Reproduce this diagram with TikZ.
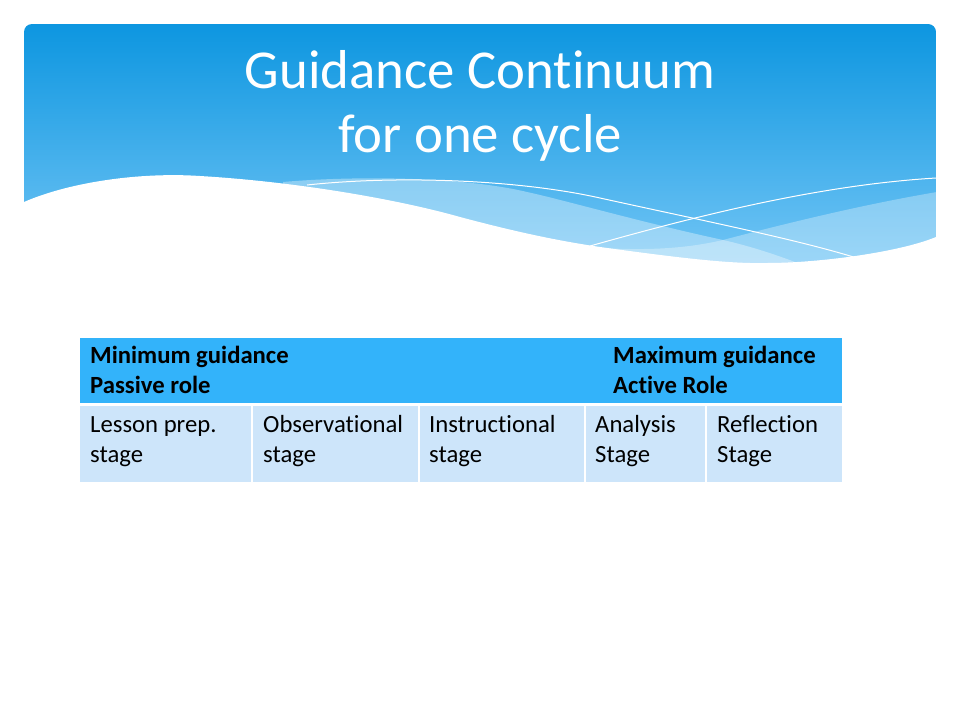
\documentclass[tikz,border=0pt]{standalone}
\usepackage{fontspec}
\setmainfont[Ligatures=NoCommon]{Carlito}
\definecolor{hdtop}{RGB}{13,150,224}
\definecolor{hdbot}{RGB}{118,199,246}
\definecolor{thead}{RGB}{51,179,250}
\definecolor{tbody}{RGB}{205,229,250}
\tikzset{
  titletxt/.style={font=\fontsize{54.8}{64}\selectfont, text=white, inner sep=0pt, anchor=base},
  txt/.style={font=\fontsize{24.7}{29}\selectfont, inner sep=0pt, anchor=base west, text=black},
  btxt/.style={txt, font=\fontsize{24.7}{29}\selectfont\bfseries},
  cellbox/.style={fill=tbody, draw=none, inner sep=0pt, anchor=north west, minimum height=76pt},
  headbox/.style={fill=thead, draw=none, inner sep=0pt, anchor=north west, minimum height=65pt, minimum width=762pt},
  waveline/.style={draw=white, line width=1pt},
}
\begin{document}
\begin{tikzpicture}[x=1pt,y=-1pt]
\useasboundingbox[fill=white] (0,0) rectangle (960,720);
% header
\begin{scope}
\clip (24,310) -- (24,32) arc[start angle=180, end angle=90, radius=8pt] -- (928,24)
      arc[start angle=90, end angle=0, radius=8pt] -- (936,310) -- cycle;
\shade[top color=hdtop, bottom color=hdbot] (24,24) rectangle (936,275);
\fill[white, opacity=0.35] (283,182) .. controls (350,176) and (460,176) .. (527,192)
   .. controls (560,199) and (640,222) .. (723,240) .. controls (750,246) and (780,256) .. (800,264)
   -- (800,285) -- (283,285) -- cycle;
\fill[white, opacity=0.3] (937,192) .. controls (860,205) and (780,225) .. (723,240)
   .. controls (680,250) and (640,250) .. (600,248) -- (600,285) -- (937,285) -- cycle;
\fill[white] (24,202) .. controls (70,182) and (140,172) .. (200,176)
   .. controls (300,182) and (400,200) .. (460,217)
   .. controls (520,233) and (560,241) .. (600,247)
   .. controls (680,258) and (730,264) .. (767,263)
   .. controls (820,263) and (900,252) .. (936,237) -- (945,320) -- (15,320) -- cycle;
\end{scope}
\coordinate (l1a) at (307,185);
\coordinate (l1b) at (860,259);
\coordinate (l2a) at (590,246);
\coordinate (l2b) at (936,178);
\draw[waveline] (l1a) .. controls (400,175) and (520,180) .. (600,198) .. controls (700,220) and (800,240) .. (l1b);
\draw[waveline] (l2a) .. controls (700,215) and (820,185) .. (l2b);
% title
\node[titletxt] (title1) at (480,88) {Guidance Continuum};
\node[titletxt] (title2) at (480,152) {for one cycle};
% table
\node[headbox] (head) at (80,338) {};
\node[cellbox, minimum width=171pt] (c1) at (80,406) {};
\node[cellbox, minimum width=165pt] (c2) at (253,406) {};
\node[cellbox, minimum width=164pt] (c3) at (420,406) {};
\node[cellbox, minimum width=119pt] (c4) at (586,406) {};
\node[cellbox, minimum width=135pt] (c5) at (707,406) {};
\node[btxt] (h1a) at (90,363) {Minimum guidance};
\node[btxt] (h1b) at (90,393) {Passive role};
\node[btxt] (h2a) at (613,363) {Maximum guidance};
\node[btxt] (h2b) at (613,393) {Active Role};
\node[txt] (t1a) at (90,432) {Lesson prep.};
\node[txt] (t1b) at (90,462) {stage};
\node[txt] (t2a) at (263,432) {Observational};
\node[txt] (t2b) at (263,462) {stage};
\node[txt] (t3a) at (429,432) {Instructional};
\node[txt] (t3b) at (429,462) {stage};
\node[txt] (t4a) at (595,432) {Analysis};
\node[txt] (t4b) at (595,462) {Stage};
\node[txt] (t5a) at (717,432) {Reflection};
\node[txt] (t5b) at (717,462) {Stage};
\end{tikzpicture}
\end{document}
